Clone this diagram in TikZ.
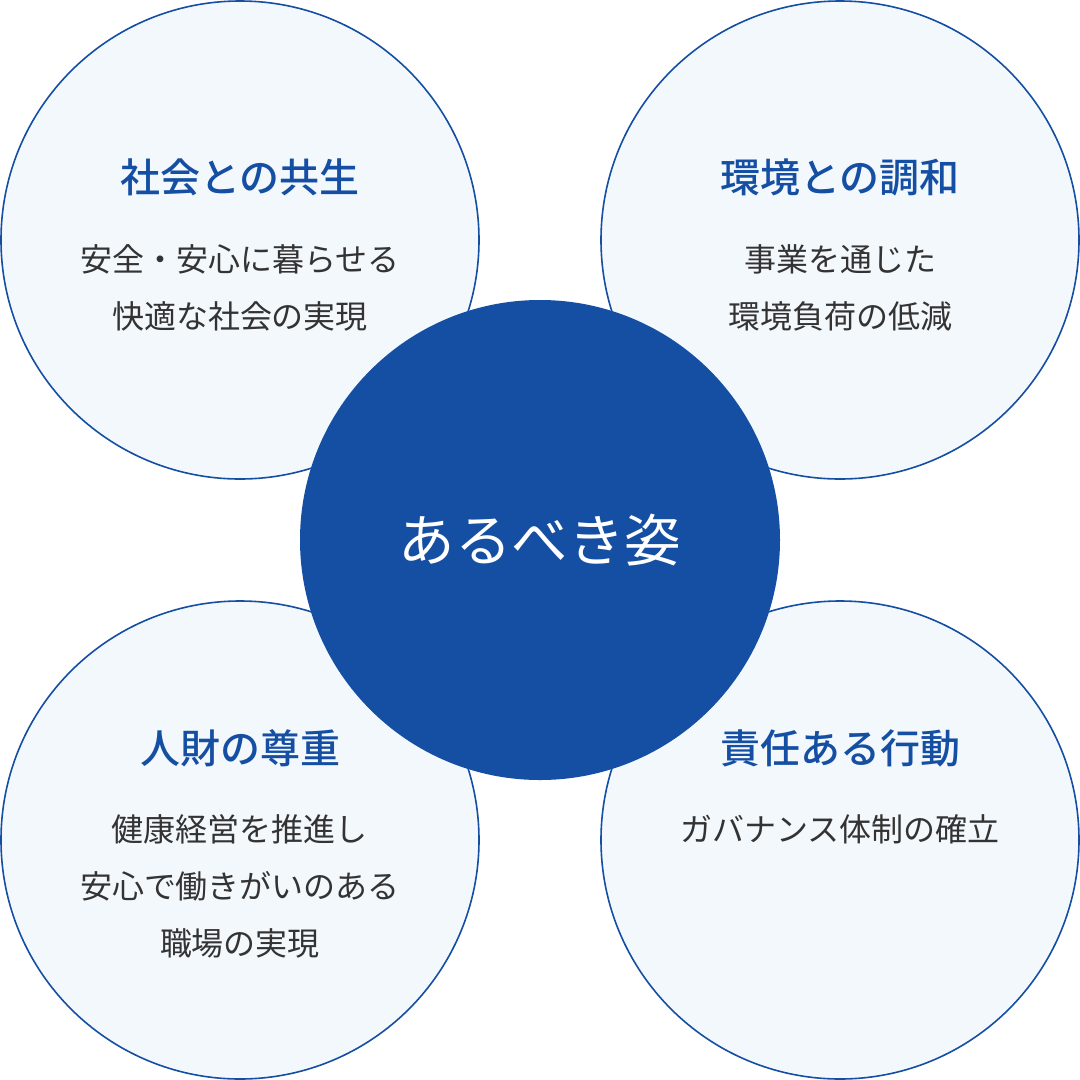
\documentclass[tikz,border=0pt]{standalone}
\usepackage{fontspec}
\setmainfont{Noto Sans CJK JP}
\newfontfamily\jpmedium{Noto Sans CJK JP Medium}

\definecolor{mainblue}{HTML}{154FA3}
\definecolor{palefill}{HTML}{F3F8FD}
\definecolor{bodygray}{HTML}{333333}

\tikzset{
  outer/.style={circle, draw=mainblue, line width=1.6pt, fill=palefill,
    minimum size=478pt, inner sep=0pt},
  core/.style={circle, fill=mainblue, minimum size=480pt, inner sep=0pt,
    text=white, font=\fontsize{56.5}{62}\selectfont},
  headline/.style={text=mainblue, font=\jpmedium\fontsize{40}{46}\selectfont},
  bodytext/.style={text=bodygray, align=center,
    font=\fontsize{32}{57}\selectfont},
}

\begin{document}
\begin{tikzpicture}[x=1pt, y=-1pt]
  \useasboundingbox (0,0) rectangle (1080,1080);
  % four themes
  \node[outer] (social) at (240,240) {};
  \node[outer] (nature) at (840,240) {};
  \node[outer] (people) at (240,840) {};
  \node[outer] (duty)   at (840,840) {};
  % center
  \node[core] (ideal) at (540,540) {あるべき姿};
  % labels
  \node[headline] (socialhead) at (240,177) {社会との共生};
  \node[bodytext, anchor=north] (socialbody) at (240,241) {安全・安心に暮らせる\\快適な社会の実現};
  \node[headline] (naturehead) at (840,177) {環境との調和};
  \node[bodytext, anchor=north] (naturebody) at (840,241) {事業を通じた\\環境負荷の低減};
  \node[headline] (peoplehead) at (240,748) {人財の尊重};
  \node[bodytext, anchor=north] (peoplebody) at (240,811) {健康経営を推進し\\安心で働きがいのある\\職場の実現};
  \node[headline] (dutyhead) at (840,748) {責任ある行動};
  \node[bodytext, anchor=north] (dutybody) at (840,811) {ガバナンス体制の確立};
\end{tikzpicture}
\end{document}
